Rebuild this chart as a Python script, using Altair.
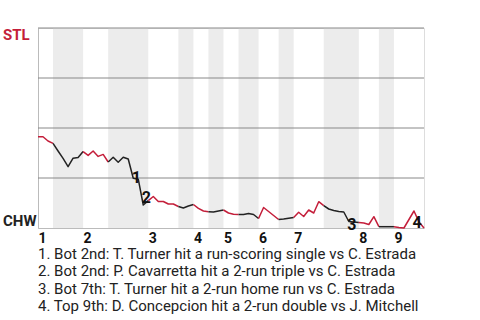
import altair as alt
import pandas as pd

# ---- data ----
teams = ["STL", "CHW"]
red = "#c41e3a"
dark = "#222222"

inning_labels = ["1", "2", "3", "4", "5", "6", "7", "8", "9"]
inning_starts = [0, 9, 22, 31, 37, 44, 51, 64, 71]          # plate-appearance index
half_bounds = [0, 3, 9, 14, 22, 28, 31, 34, 37, 40, 44, 48, 51, 57, 64, 68, 71, 77]

# STL win probability (%) after each plate appearance
stl_pct = [45.6, 45.6, 43.5, 42.3,                 # top 1
           38.5, 34.8, 30.7, 34.9, 35.3, 38.2,     # bot 1
           36.3, 38.5, 35.8, 36.8, 33.0,           # top 2
           35.4, 32.9, 35.4, 34.5, 24.9, 24.4, 11.5, 13.7,  # bot 2
           15.75, 13.25, 13.25, 12.0, 12.0, 10.75, # top 3
           10.0, 11.0, 11.75,                      # bot 3
           9.85, 8.5, 8.15,                        # top 4
           8.0, 8.5, 9.0,                          # bot 4
           7.5, 6.85, 6.75,                        # top 5
           6.75, 7.25, 6.75, 4.75,                 # bot 5
           10.25, 8.25, 6.25, 4.25,                # top 6
           4.5, 4.85, 5.25,                        # bot 6
           7.85, 5.75, 9.0, 7.5, 13.15, 11.15,     # top 7
           9.5, 8.75, 8.25, 8.0, 3.25, 3.0, 2.75,  # bot 7
           2.5, 1.75, 5.65, 0.65,                  # top 8
           0.65, 0.65, 0.65,                       # bot 8
           0.25, 0.0, 4.25, 8.5, 3.0, 0.0]         # top 9

grid_vals = [25, 50, 75, 100]

event_nums = ["1", "2", "3", "4"]
event_x = [19.6, 21.6, 62.6, 75.6]
event_y = [25.0, 15.0, 1.75, 2.75]

notes = [
    "1. Bot 2nd: T. Turner hit a run-scoring single vs C. Estrada",
    "2. Bot 2nd: P. Cavarretta hit a 2-run triple vs C. Estrada",
    "3. Bot 7th: T. Turner hit a 2-run home run vs C. Estrada",
    "4. Top 9th: D. Concepcion hit a 2-run double vs J. Mitchell",
]

# ---- tables built from the arrays ----
rows = []
for k in range(len(half_bounds) - 1):
    s, e = half_bounds[k], half_bounds[k + 1]
    half = "top" if k % 2 == 0 else "bot"
    for i in range(s, e + 1):
        rows.append({"i": i, "p": stl_pct[i], "seg": k, "half": half})
line_df = pd.DataFrame(rows)

bands_df = pd.DataFrame({
    "start": [half_bounds[k] for k in range(1, len(half_bounds) - 1, 2)],
    "end": [half_bounds[k + 1] for k in range(1, len(half_bounds) - 1, 2)],
})
grid_df = pd.DataFrame({"g": grid_vals})
events_df = pd.DataFrame({"n": event_nums, "x": event_x, "y": event_y})

xscale = alt.Scale(domain=[0, half_bounds[-1]], nice=False, zero=False)
yscale = alt.Scale(domain=[0, 100], nice=False)

label_expr = "indexof(%s, datum.value) >= 0 ? %s[indexof(%s, datum.value)] : ''" % (
    str(inning_starts), str(inning_labels), str(inning_starts))

xaxis = alt.Axis(values=inning_starts, labelExpr=label_expr, ticks=False, grid=False,
                 labelAlign="left", labelFontWeight="bold", labelFontSize=14,
                 labelColor="#111", labelPadding=3, labelFlush=False, labelOverlap=False,
                 domainColor="#bbbbbb", domainWidth=1, title=None)
yaxis = alt.Axis(values=[], labels=False, ticks=False, grid=False,
                 domainColor="#bbbbbb", domainWidth=1, title=None)

bands = alt.Chart(bands_df).mark_rect(color="#ececec").encode(
    x=alt.X("start:Q", scale=xscale, axis=xaxis),
    x2="end:Q",
    y=alt.datum(100, scale=yscale),
    y2=alt.datum(0),
)

grid = alt.Chart(grid_df).mark_rule(color="#888888", strokeWidth=1).encode(
    y=alt.Y("g:Q", scale=yscale, axis=yaxis)
)

line = alt.Chart(line_df).mark_line(strokeWidth=1.5, strokeJoin="round").encode(
    x=alt.X("i:Q", scale=xscale, axis=xaxis),
    y=alt.Y("p:Q", scale=yscale, axis=yaxis),
    color=alt.Color("half:N", scale=alt.Scale(domain=["top", "bot"], range=[red, dark]), legend=None),
    detail="seg:N",
)

ev = alt.Chart(events_df).mark_text(fontSize=16, fontWeight="bold", color="#111",
                                    align="center", baseline="middle", font="Roboto").encode(
    x=alt.X("x:Q", scale=xscale),
    y=alt.Y("y:Q", scale=yscale),
    text="n:N",
)

stl_lab = alt.Chart(pd.DataFrame({"t": [teams[0]], "p": [100]})).mark_text(
    align="left", baseline="top", fontSize=15, fontWeight="bold", color=red, x=-35, font="Roboto"
).encode(y=alt.Y("p:Q", scale=yscale), text="t:N")

chw_lab = alt.Chart(pd.DataFrame({"t": [teams[1]], "p": [0]})).mark_text(
    align="left", baseline="alphabetic", fontSize=15, fontWeight="bold", color=dark, x=-35, dy=-2,
    font="Roboto"
).encode(y=alt.Y("p:Q", scale=yscale), text="t:N")

chart = alt.layer(bands, grid, line, ev, stl_lab, chw_lab).properties(
    width=386,
    height=200,
    autosize=alt.AutoSizeParams(type="none"),
    padding={"left": 38, "top": 28, "right": 56, "bottom": 92},
    title=alt.TitleParams(text=notes, orient="bottom", anchor="start", frame="group", fontSize=15,
                          fontWeight="normal", font="Roboto", color="#222", lineHeight=17.4,
                          baseline="top", offset=2),
).configure_view(stroke=None).configure(font="Roboto")

chart.save("out.html", embed_options={"renderer": "svg", "actions": False})
